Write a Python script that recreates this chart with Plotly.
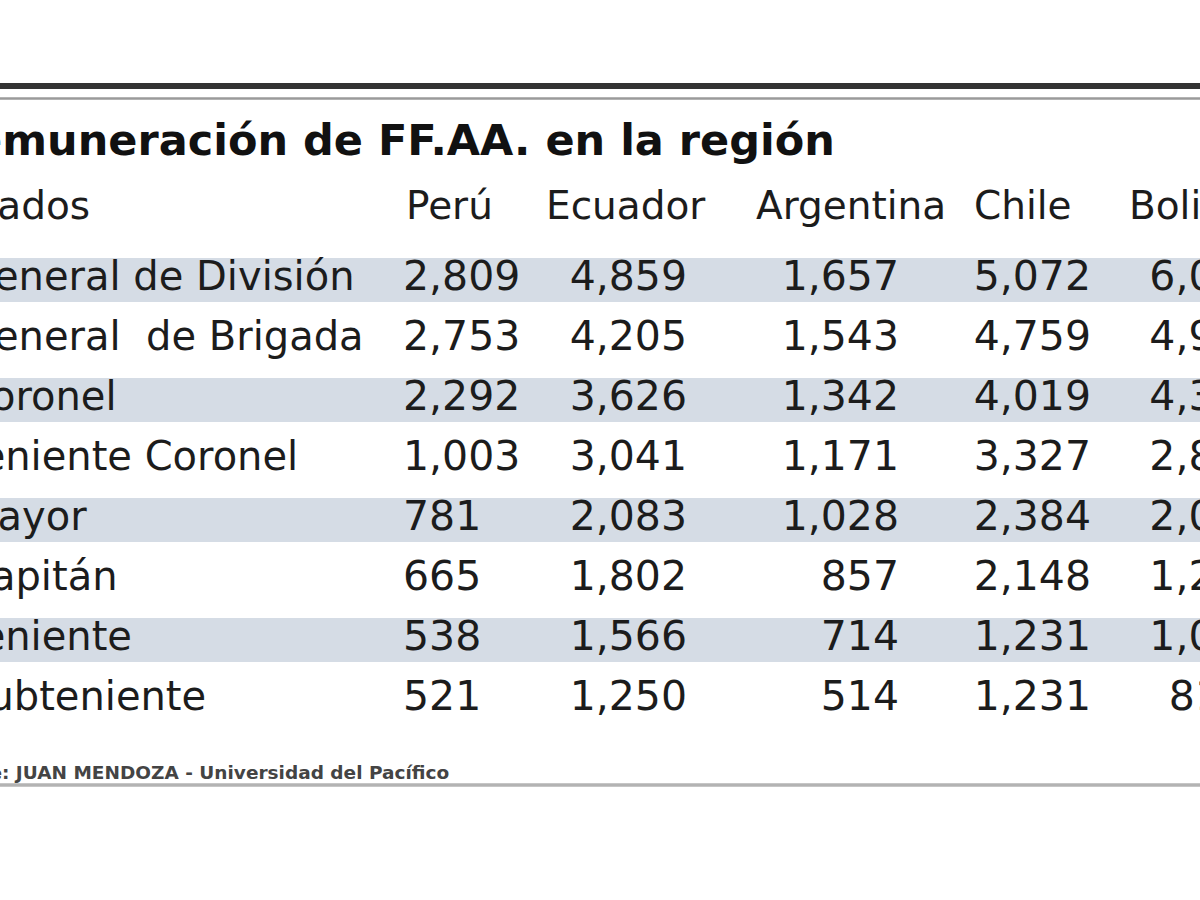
import plotly.graph_objects as go

# ---- data ----
grados = ["General de División", "General  de Brigada", "Coronel", "Teniente Coronel",
          "Mayor", "Capitán", "Teniente", "Subteniente"]
paises = ["Perú", "Ecuador", "Argentina", "Chile", "Bolivia"]
peru = [2809, 2753, 2292, 1003, 781, 665, 538, 521]
ecuador = [4859, 4205, 3626, 3041, 2083, 1802, 1566, 1250]
argentina = [1657, 1543, 1342, 1171, 1028, 857, 714, 514]
chile = [5072, 4759, 4019, 3327, 2384, 2148, 1231, 1231]
# Bolivia is cut off in the reference; values partly estimated
bolivia = [6012, 4925, 4310, 2845, 2050, 1260, 1040, 810]

title = "Remuneración de FF.AA. en la región"
header_first = "Grados"
fuente = "Fuente: JUAN MENDOZA - Universidad del Pacífico"

# ---- layout constants (pixel-like x axis, row-index y axis) ----
FONT = "DejaVu Sans"
TXT = "#1c1c1c"
BAND = "#d5dce5"
ROW_PX0, ROW_H = 280, 60


def ypix(p):
    return (p - ROW_PX0) / ROW_H


rows = list(range(len(grados)))
fig = go.Figure()


def col_trace(xpos, values, pos, fmt=True, size=41):
    txt = [f"{v:,}" for v in values] if fmt else values
    fig.add_trace(go.Scatter(
        x=[xpos] * len(values), y=rows, mode="text", text=txt,
        textposition=pos, cliponaxis=True, hoverinfo="skip",
        textfont=dict(family=FONT, size=size, color=TXT), showlegend=False))


col_trace(-37, grados, "middle right", fmt=False, size=40)
col_trace(403, peru, "middle right")
col_trace(687, ecuador, "middle left")
col_trace(899, argentina, "middle left")
col_trace(1091, chile, "middle left")
col_trace(1208, bolivia, "middle center")

# header row
hdr_x = [-49, 406, 546, 756, 974, 1129]
fig.add_trace(go.Scatter(
    x=hdr_x, y=[ypix(209)] * len(hdr_x), mode="text",
    text=[header_first] + paises, textposition="middle right",
    cliponaxis=True, hoverinfo="skip",
    textfont=dict(family=FONT, size=39, color=TXT), showlegend=False))

shapes = []
for i in rows:
    if i % 2 == 0:
        shapes.append(dict(type="rect", xref="paper", x0=0, x1=1, yref="y",
                           y0=i - 0.367, y1=i + 0.367, fillcolor=BAND,
                           line=dict(width=0), layer="below"))
shapes.append(dict(type="line", xref="paper", x0=0, x1=1, yref="y",
                   y0=ypix(86), y1=ypix(86), line=dict(color="#333333", width=6)))
shapes.append(dict(type="line", xref="paper", x0=0, x1=1, yref="y",
                   y0=ypix(98.5), y1=ypix(98.5), line=dict(color="#9a9a9a", width=2.5)))
shapes.append(dict(type="line", xref="paper", x0=0, x1=1, yref="y",
                   y0=ypix(785), y1=ypix(785), line=dict(color="#b3b3b3", width=3.5)))

annotations = [
    dict(text=f"<b>{title}</b>", x=0, xshift=-62, y=ypix(140), xref="x", yref="y",
         xanchor="left", yanchor="middle", showarrow=False,
         font=dict(family=FONT, size=43, color="#111111")),
    dict(text=f"<b>{fuente}</b>", x=0, xshift=-72, y=ypix(772), xref="x", yref="y",
         xanchor="left", yanchor="middle", showarrow=False,
         font=dict(family=FONT, size=18.5, color="#444444")),
]

fig.update_layout(
    width=1200, height=900,
    margin=dict(l=0, r=0, t=0, b=0),
    paper_bgcolor="white", plot_bgcolor="white",
    xaxis=dict(range=[0, 1200], visible=False, fixedrange=True),
    yaxis=dict(range=[ypix(900), ypix(0)], visible=False, fixedrange=True),
    shapes=shapes, annotations=annotations, showlegend=False,
)

fig.write_html("out.html", config={"displayModeBar": False},
               post_script="document.body.style.margin='0';document.body.style.overflow='hidden';")
